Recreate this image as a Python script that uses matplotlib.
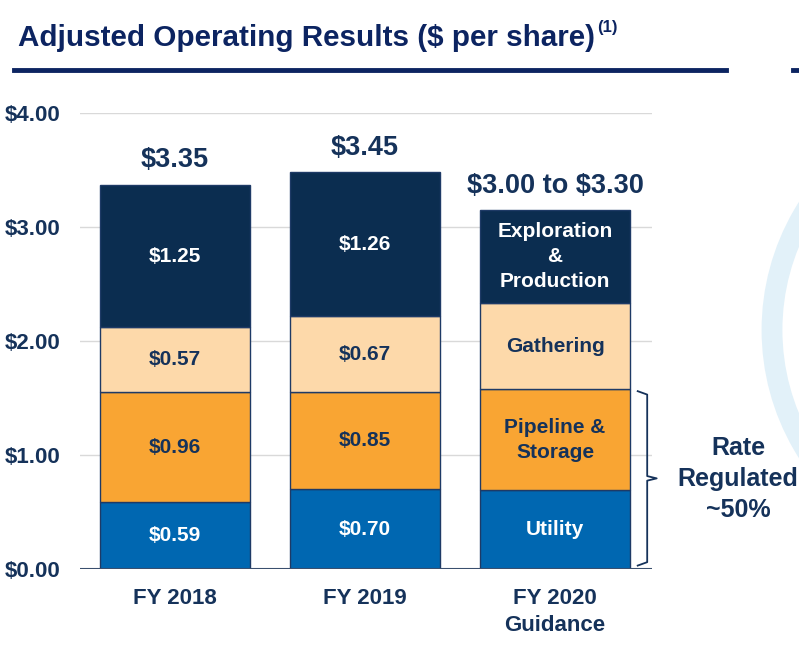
import matplotlib as mpl
from matplotlib import pyplot as plt
from matplotlib.patches import Arc
import numpy as np

mpl.rcParams['font.family'] = ['Liberation Sans', 'DejaVu Sans']
mpl.rcParams['font.weight'] = 'bold'
mpl.rcParams['text.parse_math'] = False

# data
categories = ['FY 2018', 'FY 2019', 'FY 2020\nGuidance']
utility = [0.59, 0.70, 0.69]
pipeline = [0.96, 0.85, 0.89]
gathering = [0.57, 0.67, 0.75]
exploration = [1.25, 1.26, 0.82]
totals = ['$3.35', '$3.45', '$3.00 to $3.30']

utility_labels = ['$0.59', '$0.70', 'Utility']
pipeline_labels = ['$0.96', '$0.85', 'Pipeline &\nStorage']
gathering_labels = ['$0.57', '$0.67', 'Gathering']
exploration_labels = ['$1.25', '$1.26', 'Exploration\n&\nProduction']

yticks = [0, 1, 2, 3, 4]

navy = '#0B2D50'
text_navy = '#15325A'
title_navy = '#0C2461'

W, H = 799, 653
fig = plt.figure(figsize=(W / 100, H / 100), dpi=100)
ax = fig.add_axes([80 / W, (H - 569) / H, (652 - 80) / W, (569 - 113) / H])

x = np.arange(len(categories))
width = 150 / 190

series = [
    (utility, '#0067B1', 'white', utility_labels),
    (pipeline, '#F9A533', text_navy, pipeline_labels),
    (gathering, '#FDD9AA', text_navy, gathering_labels),
    (exploration, navy, 'white', exploration_labels),
]

bottom = np.zeros(len(categories))
for values, color, tcolor, labels in series:
    values = np.array(values)
    ax.bar(x, values, width, bottom=bottom, color=color,
           edgecolor='#1E3A66', linewidth=1, zorder=3)
    for xi, b, v, lab in zip(x, bottom, values, labels):
        ax.text(xi, b + v / 2, lab, ha='center', va='center', color=tcolor,
                fontsize=15, fontweight='bold', linespacing=1.4, zorder=4)
    bottom = bottom + values

for xi, top, lab in zip(x, bottom, totals):
    ax.text(xi, top + 0.1, lab, ha='center', va='bottom', color=text_navy,
            fontsize=19.5, fontweight='bold')

ax.set_xlim(-0.5, 2.51)
ax.set_ylim(0, 4)
ax.set_yticks(yticks)
ax.set_yticklabels(['${:.2f}'.format(v) for v in yticks])
ax.set_xticks(x)
ax.set_xticklabels(categories, linespacing=1.35, va='top')
ax.tick_params(length=0, labelsize=16, labelcolor=text_navy)
ax.tick_params(axis='x', pad=14)
ax.tick_params(axis='y', pad=14)
for lab in ax.get_xticklabels() + ax.get_yticklabels():
    lab.set_fontweight('bold')
for s in ax.spines.values():
    s.set_visible(False)
ax.grid(axis='y', color='#D9D9D9', linewidth=1, zorder=0)
ax.axhline(0, color='#3A4F6E', linewidth=1.5, zorder=5)
ax.set_facecolor('none')

# bracket for rate regulated segments
bx = 2 + width / 2 + 0.04
y0, y1 = 0.03, utility[2] + pipeline[2] - 0.02
ym = (y0 + y1) / 2
ax.plot([bx, bx + 0.05, bx + 0.05, bx + 0.1, bx + 0.05, bx + 0.05, bx],
        [y0, y0 + 0.03, ym - 0.02, ym, ym + 0.02, y1 - 0.03, y1],
        color=text_navy, linewidth=1.3, clip_on=False)
fig.text(738 / W, 1 - 479 / H, 'Rate\nRegulated\n~50%', ha='center', va='center',
         color=text_navy, fontsize=18, fontweight='bold', linespacing=1.35)

# heading and rule
title = fig.text(18 / W, 1 - 38 / H, 'Adjusted Operating Results ($ per share)',
                 ha='left', va='center', color=title_navy, fontsize=21.3,
                 fontweight='bold')
fig.text(0, 0, '')
plt.annotate('(1)', xy=(1, 0.62), xycoords=title, xytext=(1.5, 0),
             textcoords='offset points', ha='left', va='bottom',
             color=title_navy, fontsize=12, fontweight='bold')
fig.add_artist(plt.Line2D([14 / W, 726 / W], [1 - 70 / H, 1 - 70 / H],
                          color=title_navy, linewidth=3.5))
fig.add_artist(plt.Line2D([793 / W, 1], [1 - 70 / H, 1 - 70 / H],
                          color=title_navy, linewidth=3.5))

# decorative arc on the right edge
fig.add_artist(Arc((1000 / W, 1 - 330 / H), 456 / W, 456 / H, theta1=115, theta2=245,
                   color='#E2F1F9', linewidth=15, transform=fig.transFigure, zorder=0))

fig.savefig('out.png', dpi=100)
